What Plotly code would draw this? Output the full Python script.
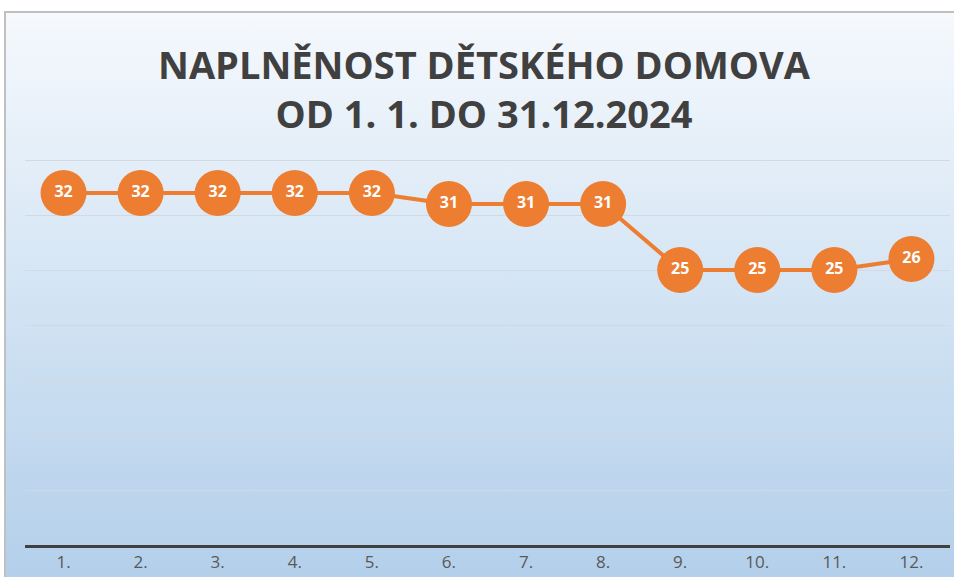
import base64
import plotly.graph_objects as go

# data
mesice = ["1.", "2.", "3.", "4.", "5.", "6.", "7.", "8.", "9.", "10.", "11.", "12."]
pocet_deti = [32, 32, 32, 32, 32, 31, 31, 31, 25, 25, 25, 26]
nadpis = ["NAPLNĚNOST DĚTSKÉHO DOMOVA", "OD 1. 1. DO 31.12.2024"]

W, H = 954, 577
ML, MR, MT, MB = 25, 4, 149, 32
pw = W - ML - MR
ph = H - MT - MB


# pixel -> paper helpers (for background / frame)
def px(x):
    return (x - ML) / pw


def py(y):
    return (H - MB - y) / ph


# vertical gradient background as an svg image
svg = (
    '<svg xmlns="http://www.w3.org/2000/svg" width="100" height="100" preserveAspectRatio="none">'
    '<defs><linearGradient id="g" x1="0" y1="0" x2="0" y2="1">'
    '<stop offset="0" stop-color="#f6f9fd"/>'
    '<stop offset="0.5" stop-color="#d3e4f4"/>'
    '<stop offset="1" stop-color="#b3cfea"/>'
    '</linearGradient></defs>'
    '<rect width="100" height="100" fill="url(#g)"/></svg>'
)
bg_src = "data:image/svg+xml;base64," + base64.b64encode(svg.encode()).decode()

fig = go.Figure()

fig.add_trace(go.Scatter(
    x=mesice, y=pocet_deti,
    mode="lines+markers+text",
    line=dict(color="#ED7D31", width=4),
    marker=dict(color="#ED7D31", size=46),
    text=[str(v) for v in pocet_deti],
    textposition="middle center",
    textfont=dict(color="white", size=16, family="Open Sans", weight="bold"),
    hoverinfo="x+y",
    showlegend=False,
    cliponaxis=False,
))

fig.add_layout_image(dict(
    source=bg_src, xref="paper", yref="paper",
    x=px(5), y=py(12), sizex=px(960) - px(5), sizey=py(12) - py(580),
    sizing="stretch", xanchor="left", yanchor="top", layer="below",
))

# frame of the chart
fig.add_shape(type="rect", xref="paper", yref="paper",
              x0=px(5), x1=px(960), y0=py(580), y1=py(12),
              line=dict(color="#c0c0c0", width=2), layer="below")

fig.add_annotation(
    text="<br>".join(nadpis), xref="paper", yref="paper",
    x=px(484.5), y=py(88), xanchor="center", yanchor="middle",
    showarrow=False, align="center",
    font=dict(family="Open Sans", size=38, color="#404040", weight="bold"),
)

fig.update_layout(
    width=W, height=H,
    margin=dict(l=ML, r=MR, t=MT, b=MB),
    paper_bgcolor="white",
    plot_bgcolor="rgba(0,0,0,0)",
    xaxis=dict(
        type="category", range=[-0.5, 11.5],
        showgrid=False, showline=True, linecolor="#404040", linewidth=3,
        ticks="", tickfont=dict(family="Open Sans", size=17, color="#595959"),
    ),
    yaxis=dict(
        range=[0, 36], dtick=5, showticklabels=False,
        showgrid=True, gridcolor="#d3d9e1", gridwidth=1,
        zeroline=False, showline=False,
    ),
)

fig.write_html("out.html", config={"displayModeBar": False},
               post_script="document.body.style.margin='0';")
